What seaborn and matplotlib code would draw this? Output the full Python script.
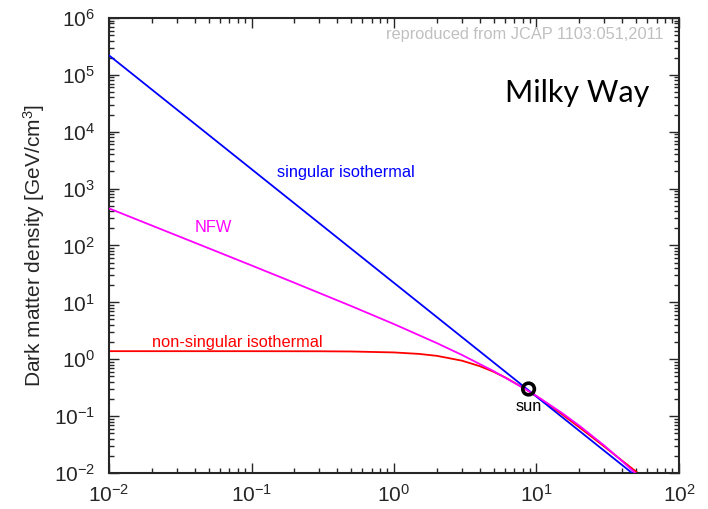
import matplotlib
matplotlib.use("Agg")
import matplotlib.pyplot as plt
import seaborn as sns
import pandas as pd

# Radius from galactic centre [kpc] and density [GeV/cm^3]
r_sis = [0.01, 0.1, 1.0, 10.0, 60.0]
rho_sis = [2.2e5, 2.2e3, 22.0, 0.22, 0.0061]

r_nfw = [0.01, 0.02, 0.05, 0.1, 0.2, 0.5, 1.0, 2.0, 3.0, 5.0, 8.5, 10.0, 15.0, 20.0, 30.0, 40.0, 50.0, 60.0]
rho_nfw = [449, 224, 89.5, 44.6, 22.1, 8.63, 4.15, 1.92, 1.19, 0.619, 0.291, 0.226, 0.115, 0.0679, 0.0302, 0.0161, 0.00968, 0.00627]

r_nsi = [0.01, 0.1, 0.3, 0.5, 1.0, 1.5, 2.0, 3.0, 4.0, 5.0, 6.0, 8.0, 10.0, 12.0, 15.0, 20.0, 30.0, 40.0, 50.0, 60.0]
rho_nsi = [1.387, 1.386, 1.381, 1.369, 1.318, 1.241, 1.148, 0.944, 0.756, 0.602, 0.482, 0.320, 0.223, 0.163, 0.109, 0.0635, 0.0290, 0.0164, 0.0106, 0.00735]

sun_r = [8.8]
sun_rho = [0.30]

x_ticks = [1e-2, 1e-1, 1e0, 1e1, 1e2]
y_ticks = [1e-2, 1e-1, 1e0, 1e1, 1e2, 1e3, 1e4, 1e5, 1e6]

sns.set_style("ticks")
plt.rcParams["font.family"] = ["Liberation Sans", "DejaVu Sans"]
plt.rcParams["mathtext.fontset"] = "custom"
plt.rcParams["mathtext.rm"] = "Liberation Sans"
plt.rcParams["mathtext.it"] = "Liberation Sans:italic"
plt.rcParams["mathtext.bf"] = "Liberation Sans:bold"
plt.rcParams["axes.unicode_minus"] = False

fig = plt.figure(figsize=(7.08, 5.09), dpi=100)
ax = fig.add_axes([0.154, 0.0707, 0.805, 0.894])

df_sis = pd.DataFrame({"r": r_sis, "rho": rho_sis})
df_nfw = pd.DataFrame({"r": r_nfw, "rho": rho_nfw})
df_nsi = pd.DataFrame({"r": r_nsi, "rho": rho_nsi})

sns.lineplot(data=df_nsi, x="r", y="rho", color="#ff0000", lw=1.3, ax=ax, zorder=2)
sns.lineplot(data=df_sis, x="r", y="rho", color="#0000ff", lw=1.3, ax=ax, zorder=3)
sns.lineplot(data=df_nfw, x="r", y="rho", color="#ff00ff", lw=1.3, ax=ax, zorder=4)
sns.scatterplot(x=sun_r, y=sun_rho, ax=ax, s=70, facecolor="none",
                edgecolor="black", linewidth=2.6, zorder=5)

ax.set_xscale("log")
ax.set_yscale("log")
ax.set_xlim(1e-2, 1e2)
ax.set_ylim(1e-2, 1e6)
ax.set_xticks(x_ticks)
ax.set_yticks(y_ticks)
ax.set_xlabel("")
ax.set_ylabel("Dark matter density [GeV/cm$^{3}$]", fontsize=15, labelpad=5)

for s in ax.spines.values():
    s.set_visible(True)
    s.set_linewidth(1.5)
ax.tick_params(which="both", direction="in", top=True, right=True, width=1.0)
ax.tick_params(which="major", length=7, labelsize=15)
ax.tick_params(axis="x", which="major", pad=8)
ax.tick_params(axis="y", which="major", pad=10)
ax.tick_params(which="minor", length=3.5)

ax.text(0.15, 1950, "singular isothermal", color="#0000ff", fontsize=11.8, va="center")
ax.text(0.0396, 204, "NFW", color="#ff00ff", fontsize=11.8, va="center")
ax.text(0.02, 1.94, "non-singular isothermal", color="#ff0000", fontsize=11.8, va="center")
ax.text(8.85, 0.148, "sun", color="black", fontsize=11.8, ha="center", va="center")
ax.text(0.972, 0.963, "reproduced from JCAP 1103:051,2011", color="#c0c0c0",
        fontsize=11.8, ha="right", va="center", transform=ax.transAxes)
ax.text(0.948, 0.835, "Milky Way", color="black", fontsize=22, ha="right", va="center",
        family=["Lato", "DejaVu Sans"], transform=ax.transAxes)

fig.savefig("out.png", dpi=100)
